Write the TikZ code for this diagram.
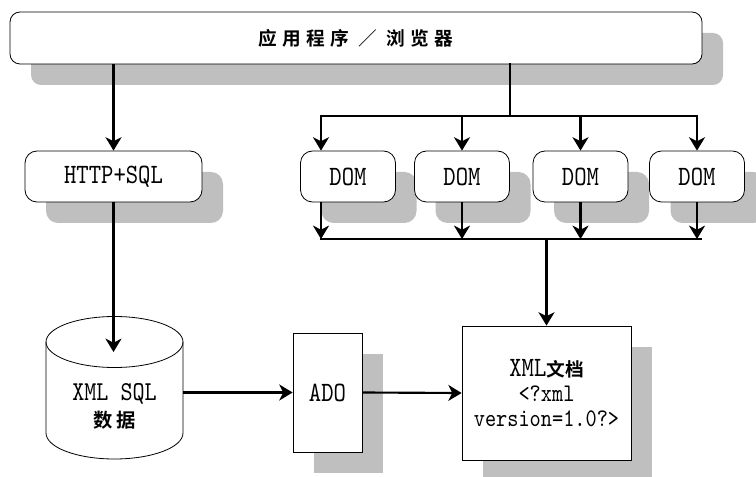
\documentclass[tikz,border=0pt]{standalone}
\usepackage{fontspec}
\usetikzlibrary{arrows.meta,shadows,calc}
\newfontfamily\cjkfont{Noto Sans CJK SC Bold}
\newfontfamily\cjklight{Noto Sans CJK SC}
\newfontfamily\codefont{lmmono10-regular.otf}[FakeStretch=0.84]

\begin{document}
\begin{tikzpicture}[
    x=0.75pt, y=0.75pt,
    box/.style={rectangle, draw, line width=0.6pt, fill=white, rounded corners=9pt, minimum height=38.25pt, align=center, font=\codefont\fontsize{21}{21}\selectfont},
    plain/.style={box, rounded corners=0pt},
    shade/.style={drop shadow={shadow xshift=15.75pt, shadow yshift=-15.75pt, fill=black!25, opacity=1}},
    arrow/.style={-{Stealth[length=10pt,width=12pt,inset=3pt]}, line width=1.6pt},
    bus/.style={line width=1.6pt, line cap=rect}
]
\useasboundingbox (0,0) rectangle (756,-477);

% top layer
\node[box, shade, rounded corners=7.5pt, minimum width=519pt, minimum height=39pt] (app) at (356,-38)
    {\cjkfont\fontsize{14}{14}\selectfont\addfontfeature{LetterSpace=28}应用程序 {\cjklight\fontsize{14}{14}\selectfont ／} 浏览器};

% access paths
\node[box, shade, minimum width=132.75pt] (http) at (113.5,-176.5) {HTTP+SQL};
\foreach \n/\x in {1/348, 2/462, 3/580.5, 4/697}
    \node[box, shade, minimum width=71.25pt] (d\n) at (\x,-176.5) {DOM};

% database cylinder
\node[minimum width=102.75pt, minimum height=107.25pt] (db) at (114.5,-387.5) {};
\draw[line width=0.6pt, fill=white] (46,-342) -- (46,-433) arc[start angle=180, end angle=360, x radius=68.5, y radius=26] -- (183,-342);
\draw[line width=0.6pt] (114.5,-342) ellipse[x radius=68.5, y radius=25.5];
\node[align=center, font=\codefont\fontsize{20.5}{20.25}\selectfont] (dbtext) at (114.5,-406.5)
    {XML SQL\\{\cjkfont\fontsize{14.5}{20.25}\selectfont\addfontfeature{LetterSpace=18}数据}};
\coordinate (dbcap) at (114.5,-352);

\node[plain, shade, minimum width=51.75pt, minimum height=89.25pt] (ado) at (327.5,-392.5) {ADO};
\node[plain, shade, minimum width=126.75pt, minimum height=100.5pt, font=\codefont\fontsize{19}{18.75}\selectfont] (doc) at (546.5,-393)
    {{\fontsize{21}{18.75}\selectfont XML}{\cjkfont\fontsize{14}{18.75}\selectfont 文档}\\<?xml\\version=1.0?>};

% connectors
\coordinate (fork) at (510,-116);
\coordinate (join) at (546.5,-239);
\draw[arrow] (http |- app.south) -- (http.north);
\draw[bus] (app.south -| fork) -- (fork);
\draw[bus] ($(d1.north |- fork)+(-27,0)$) -- (d4.north |- fork);
\draw[bus] ($(d1.south |- join)+(-27,0)$) -- ($(d4.south |- join)+(4,0)$);
\foreach \n/\dx in {1/-27, 2/0, 3/0, 4/0} {
    \draw[arrow] ($(d\n.north |- fork)+(\dx,0)$) -- ($(d\n.north)+(\dx,0)$);
    \draw[arrow] ($(d\n.south)+(\dx,0)$) -- ($(d\n.south |- join)+(\dx,0)$);
}
\draw[arrow] (join) -- (doc.north);
\draw[arrow] (http.south) -- (http.south |- dbcap);
\draw[arrow] (db.east |- ado.west) -- (ado.west);
\draw[arrow] (ado.east) -- (doc.west);
\end{tikzpicture}
\end{document}
